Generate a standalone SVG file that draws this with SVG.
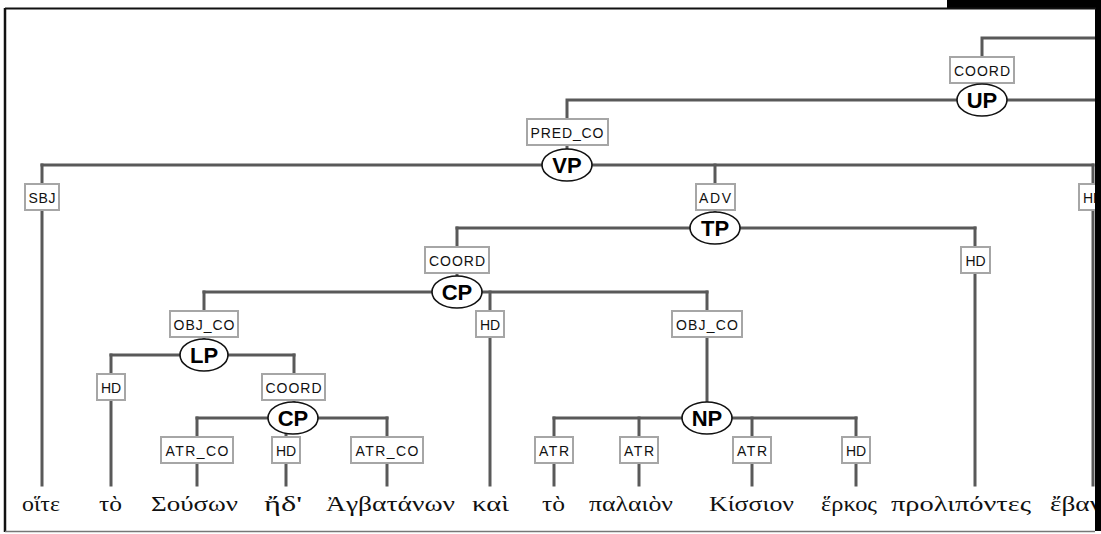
<svg xmlns="http://www.w3.org/2000/svg" width="1101" height="534" viewBox="0 0 1101 534">
  <defs>
    <clipPath id="pane">
      <rect x="6" y="10" width="1089" height="521"/>
    </clipPath>
  </defs>
  <style>
    .edge { stroke: #595959; stroke-width: 3; fill: none; stroke-linecap: square; }
    .lbl rect { fill: #ffffff; stroke: #a6a6a6; stroke-width: 2; }
    .lbl text { font-family: "Liberation Sans", Arial, sans-serif; font-size: 14px; fill: #111; text-anchor: middle; }
    .phr ellipse { fill: #ffffff; stroke: #111; stroke-width: 1.6; }
    .phr text { font-family: "Liberation Sans", Arial, sans-serif; font-weight: bold; font-size: 22px; fill: #000; text-anchor: middle; }
    .word text { font-family: "Liberation Serif", "Times New Roman", serif; font-size: 21px; fill: #111; }
  </style>

  <!-- page background and frame -->
  <rect x="0" y="0" width="1101" height="534" fill="#ffffff"/>
  <rect x="947" y="0" width="154" height="9" fill="#000"/>
  <rect x="1095" y="0" width="6" height="531" fill="#000"/>
  <line x1="5" y1="8.5" x2="1096" y2="8.5" stroke="#111" stroke-width="2"/>
  <line x1="5" y1="8" x2="5" y2="532" stroke="#111" stroke-width="2.5"/>
  <line x1="5" y1="531.5" x2="1095" y2="531.5" stroke="#777" stroke-width="1.5"/>

  <g clip-path="url(#pane)">
    <!-- tree connectors -->
    <g id="connectors" class="edge">
      <polyline points="1100,38 982,38 982,100"/>
      <polyline points="567,165 567,100 1100,100"/>
      <line x1="42" y1="165" x2="1093" y2="165"/>
      <line x1="42" y1="165" x2="42" y2="485"/>
      <line x1="1093" y1="165" x2="1093" y2="485"/>
      <line x1="715" y1="165" x2="715" y2="228"/>
      <line x1="457" y1="228" x2="975" y2="228"/>
      <line x1="457" y1="228" x2="457" y2="292"/>
      <line x1="975" y1="228" x2="975" y2="485"/>
      <line x1="204" y1="292" x2="707" y2="292"/>
      <line x1="204" y1="292" x2="204" y2="355"/>
      <line x1="490" y1="292" x2="490" y2="485"/>
      <line x1="707" y1="292" x2="707" y2="418"/>
      <line x1="111" y1="355" x2="294" y2="355"/>
      <line x1="111" y1="355" x2="111" y2="485"/>
      <line x1="294" y1="355" x2="294" y2="418"/>
      <line x1="197" y1="418" x2="387" y2="418"/>
      <line x1="197" y1="418" x2="197" y2="485"/>
      <line x1="286" y1="418" x2="286" y2="485"/>
      <line x1="387" y1="418" x2="387" y2="485"/>
      <line x1="554" y1="418" x2="856" y2="418"/>
      <line x1="554" y1="418" x2="554" y2="485"/>
      <line x1="639" y1="418" x2="639" y2="485"/>
      <line x1="752" y1="418" x2="752" y2="485"/>
      <line x1="856" y1="418" x2="856" y2="485"/>
    </g>

    <!-- relation labels -->
    <g id="lbl-up-coord" class="lbl"><rect x="950" y="57" width="64" height="26"/><text x="982" y="75.5" textLength="56" lengthAdjust="spacing">COORD</text></g>
    <g id="lbl-vp-predco" class="lbl"><rect x="527" y="119" width="81" height="26"/><text x="567" y="137.5" textLength="73" lengthAdjust="spacing">PRED_CO</text></g>
    <g id="lbl-sbj" class="lbl"><rect x="25" y="184" width="34" height="26"/><text x="42" y="202.5" textLength="27" lengthAdjust="spacing">SBJ</text></g>
    <g id="lbl-adv" class="lbl"><rect x="696" y="184" width="39" height="26"/><text x="715" y="202.5" textLength="32" lengthAdjust="spacing">ADV</text></g>
    <g id="lbl-hd-ebalon" class="lbl"><rect x="1079" y="184" width="29" height="26"/><text x="1093" y="202.5" textLength="20" lengthAdjust="spacing">HD</text></g>
    <g id="lbl-cp-coord" class="lbl"><rect x="425" y="247" width="64" height="26"/><text x="457" y="265.5" textLength="56" lengthAdjust="spacing">COORD</text></g>
    <g id="lbl-hd-prolip" class="lbl"><rect x="961" y="247" width="29" height="26"/><text x="975.5" y="265.5" textLength="20" lengthAdjust="spacing">HD</text></g>
    <g id="lbl-lp-objco" class="lbl"><rect x="170" y="311" width="68" height="26"/><text x="204" y="329.5" textLength="61" lengthAdjust="spacing">OBJ_CO</text></g>
    <g id="lbl-hd-kai" class="lbl"><rect x="476" y="311" width="28" height="26"/><text x="490" y="329.5" textLength="20" lengthAdjust="spacing">HD</text></g>
    <g id="lbl-np-objco" class="lbl"><rect x="672" y="311" width="70" height="26"/><text x="707" y="329.5" textLength="62" lengthAdjust="spacing">OBJ_CO</text></g>
    <g id="lbl-hd-to1" class="lbl"><rect x="97" y="374" width="28" height="26"/><text x="111" y="392.5" textLength="20" lengthAdjust="spacing">HD</text></g>
    <g id="lbl-cp2-coord" class="lbl"><rect x="262" y="374" width="63" height="26"/><text x="293.5" y="392.5" textLength="56" lengthAdjust="spacing">COORD</text></g>
    <g id="lbl-atrco-souson" class="lbl"><rect x="161" y="437" width="72" height="26"/><text x="197" y="455.5" textLength="63" lengthAdjust="spacing">ATR_CO</text></g>
    <g id="lbl-hd-ed" class="lbl"><rect x="272" y="437" width="28" height="26"/><text x="286" y="455.5" textLength="20" lengthAdjust="spacing">HD</text></g>
    <g id="lbl-atrco-agbatanon" class="lbl"><rect x="351" y="437" width="72" height="26"/><text x="387" y="455.5" textLength="63" lengthAdjust="spacing">ATR_CO</text></g>
    <g id="lbl-atr-to2" class="lbl"><rect x="535" y="437" width="38" height="26"/><text x="554" y="455.5" textLength="30" lengthAdjust="spacing">ATR</text></g>
    <g id="lbl-atr-palaion" class="lbl"><rect x="620" y="437" width="38" height="26"/><text x="639" y="455.5" textLength="30" lengthAdjust="spacing">ATR</text></g>
    <g id="lbl-atr-kission" class="lbl"><rect x="733" y="437" width="38" height="26"/><text x="752" y="455.5" textLength="30" lengthAdjust="spacing">ATR</text></g>
    <g id="lbl-hd-erkos" class="lbl"><rect x="842" y="437" width="28" height="26"/><text x="856" y="455.5" textLength="20" lengthAdjust="spacing">HD</text></g>

    <!-- phrase nodes -->
    <g id="node-up" class="phr"><ellipse cx="982" cy="100" rx="25" ry="16"/><text x="982" y="108">UP</text></g>
    <g id="node-vp" class="phr"><ellipse cx="567" cy="165" rx="25" ry="16"/><text x="567" y="173">VP</text></g>
    <g id="node-tp" class="phr"><ellipse cx="715" cy="228" rx="25" ry="16"/><text x="715" y="236">TP</text></g>
    <g id="node-cp" class="phr"><ellipse cx="457" cy="292" rx="25" ry="16"/><text x="457" y="300">CP</text></g>
    <g id="node-lp" class="phr"><ellipse cx="204" cy="355" rx="24" ry="16"/><text x="204" y="363">LP</text></g>
    <g id="node-cp2" class="phr"><ellipse cx="293" cy="418" rx="25" ry="16"/><text x="293" y="426">CP</text></g>
    <g id="node-np" class="phr"><ellipse cx="707" cy="418" rx="25" ry="16"/><text x="707" y="426">NP</text></g>

    <!-- leaf words -->
    <g id="w-hoite" class="word"><text x="22" y="511" textLength="38" lengthAdjust="spacingAndGlyphs">οἵτε</text></g>
    <g id="w-to1" class="word"><text x="99" y="511" textLength="23" lengthAdjust="spacingAndGlyphs">τὸ</text></g>
    <g id="w-souson" class="word"><text x="151" y="511" textLength="87" lengthAdjust="spacingAndGlyphs">Σούσων</text></g>
    <g id="w-ed" class="word"><text x="264" y="511" textLength="38" lengthAdjust="spacingAndGlyphs">ἤδ'</text></g>
    <g id="w-agbatanon" class="word"><text x="326" y="511" textLength="129" lengthAdjust="spacingAndGlyphs">Ἀγβατάνων</text></g>
    <g id="w-kai" class="word"><text x="472" y="511" textLength="37" lengthAdjust="spacingAndGlyphs">καὶ</text></g>
    <g id="w-to2" class="word"><text x="542" y="511" textLength="23" lengthAdjust="spacingAndGlyphs">τὸ</text></g>
    <g id="w-palaion" class="word"><text x="589" y="511" textLength="84" lengthAdjust="spacingAndGlyphs">παλαιὸν</text></g>
    <g id="w-kission" class="word"><text x="709" y="511" textLength="85" lengthAdjust="spacingAndGlyphs">Κίσσιον</text></g>
    <g id="w-herkos" class="word"><text x="821" y="511" textLength="56" lengthAdjust="spacingAndGlyphs">ἕρκος</text></g>
    <g id="w-prolipontes" class="word"><text x="891" y="511" textLength="140" lengthAdjust="spacingAndGlyphs">προλιπόντες</text></g>
    <g id="w-ebalon" class="word"><text x="1050" y="511" textLength="52" lengthAdjust="spacingAndGlyphs">ἔβαν</text></g>
  </g>
</svg>
